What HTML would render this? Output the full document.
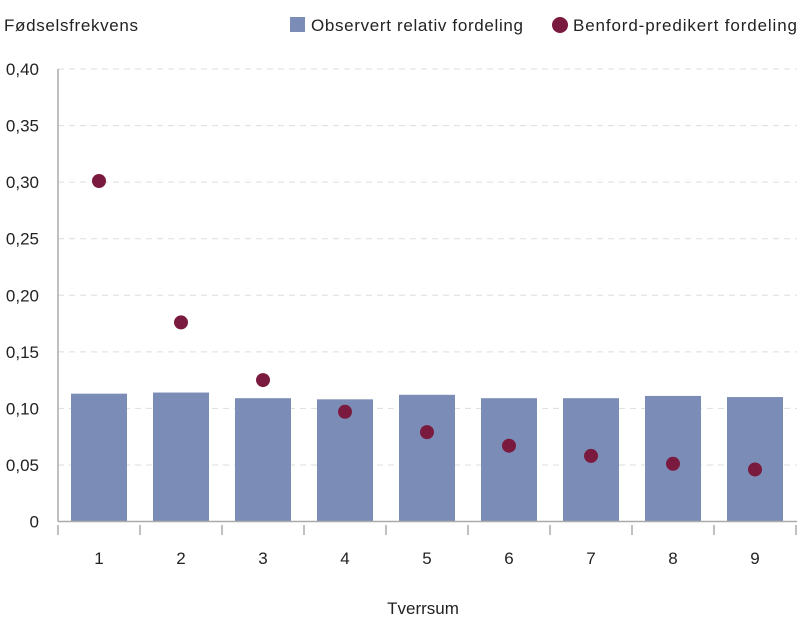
<!DOCTYPE html>
<html><head><meta charset="utf-8"><style>
body{margin:0;background:#fff;font-family:"Liberation Sans",sans-serif;}
svg text{font-family:"Liberation Sans",sans-serif;fill:#222;}
</style></head><body>
<svg id="c" width="800" height="635">
<text x="4" y="31" font-size="17" textLength="134">Fødselsfrekvens</text>
<g>
<rect x="290" y="17" width="15" height="15" fill="#7b8db6"></rect>
<text x="311" y="31" font-size="17" textLength="212">Observert relativ fordeling</text>
<circle cx="560" cy="25" r="8" fill="#7b1a3f"></circle>
<text x="573" y="31" font-size="17" textLength="224">Benford-predikert fordeling</text>
</g>
<text x="423" y="614" font-size="17" text-anchor="middle">Tverrsum</text>
</svg>
<script>
const categories=["1","2","3","4","5","6","7","8","9"];
const observed=[0.113,0.114,0.109,0.108,0.112,0.109,0.109,0.111,0.110];
const benford=[0.301,0.176,0.125,0.097,0.079,0.067,0.058,0.051,0.046];
const yTicks=[0,0.05,0.10,0.15,0.20,0.25,0.30,0.35,0.40];
const yLabels=["0","0,05","0,10","0,15","0,20","0,25","0,30","0,35","0,40"];
const svg=document.getElementById('c');const NS='http://www.w3.org/2000/svg';
const x0=58,band=82,y0=521.5,yTop=69;
const y=v=>y0-(v/0.40)*(y0-yTop);
const xc=i=>x0+band*(i+0.5);
function mk(t,a,p){const e=document.createElementNS(NS,t);for(const k in a)e.setAttribute(k,a[k]);(p||svg).appendChild(e);return e;}
yTicks.forEach((v,i)=>{
 if(v>0){const g=mk('line',{x1:x0,x2:797,y1:y(v),y2:y(v),stroke:'#ddd','stroke-dasharray':'6,5'});
 
 }
 const t=mk('text',{x:39,y:y(v)+6,'font-size':17,'text-anchor':'end'});t.textContent=yLabels[i];
 
 
});
observed.forEach((v,i)=>{
 const r=mk('rect',{x:xc(i)-28,y:y(v),width:56,height:y0-y(v),fill:'#7b8db6'});
 
 
});
const ax=mk('line',{x1:x0,x2:x0,y1:69,y2:y0,stroke:'#aaa','stroke-width':1.5});


const bx=mk('line',{x1:x0,x2:797,y1:y0,y2:y0,stroke:'#aaa','stroke-width':1.5});


for(let i=0;i<=categories.length;i++){
 const t=mk('line',{x1:x0+band*i,x2:x0+band*i,y1:525,y2:535,stroke:'#aaa','stroke-width':1.5});
 
 
}
categories.forEach((c,i)=>{
 const t=mk('text',{x:xc(i),y:564,'font-size':17,'text-anchor':'middle'});t.textContent=c;
 
 
});
benford.forEach((v,i)=>{
 const d=mk('circle',{cx:xc(i),cy:y(v),r:7,fill:'#7b1a3f'});
 
 
});
</script>
</body></html>
